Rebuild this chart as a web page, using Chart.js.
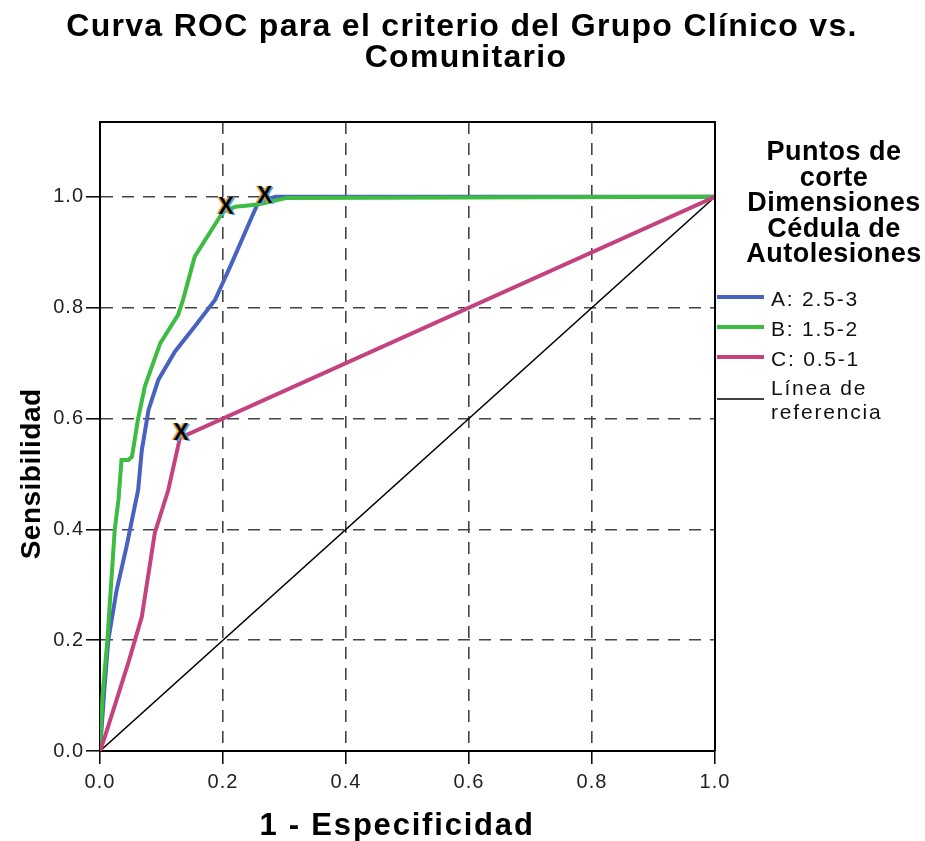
<!DOCTYPE html>
<html>
<head>
<meta charset="utf-8">
<script src="https://cdn.jsdelivr.net/npm/chart.js@4/dist/chart.umd.min.js"></script>
<style>
  html, body { margin: 0; padding: 0; background: #fff; }
  canvas { display: block; }
</style>
</head>
<body>
<canvas id="roc" width="925" height="841"></canvas>
<script>
// curva A: 2.5-3
var fprA = [0, 0.007, 0.0135, 0.027, 0.043, 0.062, 0.068, 0.079, 0.095, 0.122, 0.154, 0.187, 0.192, 0.214, 0.247, 0.257, 0.285, 1];
var tprA = [0, 0.11, 0.2, 0.29, 0.368, 0.471, 0.543, 0.616, 0.67, 0.721, 0.766, 0.814, 0.826, 0.88, 0.964, 0.989, 1.0, 1.0];
// curva B: 1.5-2
var fprB = [0, 0.004, 0.012, 0.018, 0.024, 0.030, 0.035, 0.046, 0.052, 0.062, 0.073, 0.098, 0.127, 0.135, 0.154, 0.2, 0.22, 0.257, 0.304, 1];
var tprB = [0, 0.1, 0.2, 0.3, 0.4, 0.453, 0.525, 0.525, 0.531, 0.6, 0.658, 0.736, 0.787, 0.814, 0.892, 0.973, 0.982, 0.986, 0.998, 1];
// curva C: 0.5-1
var fprC = [0, 0.008, 0.046, 0.068, 0.089, 0.111, 0.13, 1];
var tprC = [0, 0.026, 0.159, 0.242, 0.393, 0.471, 0.565, 1];
// linea de referencia
var fprRef = [0, 1];
var tprRef = [0, 1];
// puntos de corte marcados con X
var cutX = [0.205, 0.268, 0.132];
var cutY = [0.98, 1.0, 0.572];

var axisTicks = [0, 0.2, 0.4, 0.6, 0.8, 1.0];
var serieNames = ['A: 2.5-3', 'B: 1.5-2', 'C: 0.5-1'];
var refName = ['Línea de', 'referencia'];
var legendTitle = ['Puntos de', 'corte', 'Dimensiones', 'Cédula de', 'Autolesiones'];
var titleLines = ['Curva ROC para el criterio del Grupo Clínico vs.', 'Comunitario'];
var xTitle = '1 - Especificidad';
var yTitle = 'Sensibilidad';

var colA = '#4762bf';
var colB = '#3dbc42';
var colC = '#c4437e';
var fam = '"Liberation Sans", Arial, sans-serif';

function pts(xs, ys) {
    return xs.map(function(x, i) { return {x: x, y: ys[i]}; });
}

// marcador "X" con halo naranja/azul como en SPSS
var mark = document.createElement('canvas');
mark.width = 30; mark.height = 30;
var mc = mark.getContext('2d');
mc.font = 'bold 23px ' + fam;
mc.textAlign = 'center';
mc.textBaseline = 'middle';
mc.fillStyle = '#4aa8ee'; mc.fillText('X', 17, 16);
mc.fillStyle = '#f29a30'; mc.fillText('X', 13, 14.5);
mc.fillStyle = '#000'; mc.fillText('X', 15, 15);

var decor = {
    id: 'decor',
    beforeDraw: function(chart) {
        chart.ctx.letterSpacing = '1px';
    },
    afterDraw: function(chart) {
        var ctx = chart.ctx;
        var a = chart.chartArea;
        var ys = chart.scales.y;
        ctx.save();
        // marco superior y derecho
        ctx.strokeStyle = '#000';
        ctx.lineWidth = 2;
        ctx.beginPath();
        ctx.moveTo(a.left, a.top);
        ctx.lineTo(a.right, a.top);
        ctx.lineTo(a.right, a.bottom);
        ctx.stroke();

        // titulo
        ctx.fillStyle = '#000';
        ctx.textAlign = 'center';
        ctx.textBaseline = 'alphabetic';
        ctx.font = 'bold 32px ' + fam;
        ctx.letterSpacing = '1.3px';
        ctx.fillText(titleLines[0], 462, 36);
        ctx.fillText(titleLines[1], 466, 67);

        // titulos de ejes
        ctx.font = 'bold 31px ' + fam;
        ctx.letterSpacing = '1.8px';
        ctx.fillText(xTitle, 397, 835);

        ctx.save();
        ctx.translate(40, (ys.getPixelForValue(0) + ys.getPixelForValue(1)) / 2);
        ctx.rotate(-Math.PI / 2);
        ctx.font = 'bold 28px ' + fam;
        ctx.letterSpacing = '0.5px';
        ctx.fillText(yTitle, 0, 0);
        ctx.restore();

        // leyenda
        ctx.font = 'bold 27px ' + fam;
        ctx.letterSpacing = '0.5px';
        legendTitle.forEach(function(t, i) {
            ctx.fillText(t, 834, 160 + i * 25.5);
        });
        ctx.textAlign = 'left';
        ctx.textBaseline = 'middle';
        ctx.font = '21px ' + fam;
        ctx.letterSpacing = '1.8px';
        var cols = [colA, colB, colC];
        serieNames.forEach(function(t, i) {
            var y = 297 + i * 30;
            ctx.strokeStyle = cols[i];
            ctx.lineWidth = 4;
            ctx.beginPath();
            ctx.moveTo(717, y);
            ctx.lineTo(764, y);
            ctx.stroke();
            ctx.fillStyle = '#111';
            ctx.fillText(t, 771, y + 3);
        });
        ctx.strokeStyle = '#000';
        ctx.lineWidth = 1.5;
        ctx.beginPath();
        ctx.moveTo(717, 399);
        ctx.lineTo(764, 399);
        ctx.stroke();
        ctx.fillText(refName[0], 771, 389);
        ctx.fillText(refName[1], 771, 413);
        ctx.restore();
    }
};

function gridOpts(len) {
    return {
        color: '#444',
        lineWidth: 1.6,
        tickLength: len,
        tickColor: '#000',
        tickWidth: 1.5,
        tickBorderDash: []
    };
}

var tickFont = { family: fam, size: 20 };

new Chart(document.getElementById('roc'), {
    type: 'scatter',
    data: {
        datasets: [
            { label: 'Línea de referencia', data: pts(fprRef, tprRef), showLine: true, borderColor: '#000', borderWidth: 1.5, pointRadius: 0, order: 4 },
            { label: serieNames[0], data: pts(fprA, tprA), showLine: true, borderColor: colA, borderWidth: 4, pointRadius: 0, order: 3 },
            { label: serieNames[1], data: pts(fprB, tprB), showLine: true, borderColor: colB, borderWidth: 4, pointRadius: 0, order: 2 },
            { label: serieNames[2], data: pts(fprC, tprC), showLine: true, borderColor: colC, borderWidth: 4, pointRadius: 0, order: 1 },
            { label: 'corte', data: pts(cutX, cutY), pointStyle: mark, pointRadius: 12, order: 0 }
        ]
    },
    options: {
        responsive: false,
        animation: false,
        devicePixelRatio: 1,
        layout: { padding: { top: 122, right: 210, bottom: 0, left: 0 } },
        plugins: {
            legend: { display: false },
            title: { display: false },
            tooltip: { enabled: false }
        },
        scales: {
            x: {
                type: 'linear',
                min: 0,
                max: 1,
                afterBuildTicks: function(s) { s.ticks = axisTicks.map(function(v) { return {value: v}; }); },
                afterFit: function(s) { s.height = 90; },
                grid: gridOpts(13),
                border: { color: '#000', width: 2, dash: [12, 9] },
                ticks: {
                    padding: 6,
                    color: '#222',
                    font: tickFont,
                    maxRotation: 0,
                    callback: function(v) { return Number(v).toFixed(1); }
                }
            },
            y: {
                type: 'linear',
                min: 0,
                max: 1.135,
                afterBuildTicks: function(s) { s.ticks = axisTicks.map(function(v) { return {value: v}; }); },
                afterFit: function(s) { s.width = 100; },
                grid: gridOpts(14),
                border: { color: '#000', width: 2, dash: [12, 9] },
                ticks: {
                    padding: 2,
                    color: '#222',
                    font: tickFont,
                    callback: function(v) { return Number(v).toFixed(1); }
                }
            }
        }
    },
    plugins: [decor]
});
</script>
</body>
</html>
